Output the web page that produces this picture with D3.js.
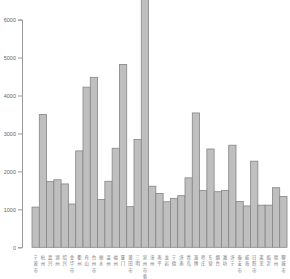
<!DOCTYPE html>
<html lang="zh">
<head>
    <meta charset="UTF-8">
    <title>Bar chart</title>
    <style>
        body { margin: 0; background: #fff; }
        #graphArea { width: 290px; height: 279px; }
        .tick text { font-family: "Liberation Sans", Arial, sans-serif; }
    </style>
</head>
<body>
    <div id="graphArea"></div>
    <script src="https://d3js.org/d3.v7.min.js"></script>
    <script>
        // categories (vertical Chinese labels under each bar)
        const cities = ["宁波市", "杭州", "嘉兴", "湖州", "绍兴", "金华市", "衢州", "舟山",
            "台州市", "丽水", "温州", "福州", "厦门", "莆田市", "三明", "泉州市省",
            "漳州", "南平", "龙岩", "宁德", "济南", "青岛", "淄博", "枣庄",
            "东营", "烟台", "潍坊", "济宁", "泰安市", "威海", "日照市", "莱芜",
            "临沂", "德州", "聊城市"];
        const values = [1060, 3500, 1730, 1780, 1670, 1140, 2540, 4220,
            4480, 1260, 1740, 2610, 4820, 1070, 2840, 6550,
            1610, 1420, 1200, 1290, 1360, 1830, 3540, 1500,
            2590, 1465, 1500, 2690, 1210, 1090, 2270, 1110,
            1110, 1570, 1340];
        const yTicks = [0, 1000, 2000, 3000, 4000, 5000, 6000];

        const drawGraph = () => {
            const data = cities.map((c, i) => ({ name: c, value: values[i] }));

            const svg = d3.select("#graphArea")
                .append("svg")
                .attr("width", 290)
                .attr("height", 279);

            const x = d3.scaleBand()
                .domain(data.map(d => d.name))
                .range([32, 287])
                .paddingInner(0)
                .paddingOuter(0);

            const y = d3.scaleLinear()
                .domain([0, 6000])
                .range([247.3, 19.6]);

            // bars
            svg.append("g")
                .selectAll("rect")
                .data(data)
                .join("rect")
                .attr("x", d => x(d.name))
                .attr("y", d => y(d.value))
                .attr("width", x.bandwidth())
                .attr("height", d => y(0) - y(d.value))
                .attr("fill", "#bfbfbf")
                .attr("stroke", "#858585")
                .attr("stroke-width", 0.8);

            // y axis
            const yAxis = svg.append("g")
                .attr("transform", "translate(22,0)")
                .call(d3.axisLeft(y).tickValues(yTicks).tickSize(4).tickPadding(2).tickFormat(d3.format("d")));
            yAxis.select(".domain").attr("stroke", "#999");
            yAxis.selectAll(".tick line").attr("stroke", "#999");
            yAxis.selectAll(".tick text")
                .attr("font-size", "5.5px")
                .attr("fill", "#666");

            // vertical category labels, one character per row
            const labels = svg.append("g")
                .selectAll("g")
                .data(data)
                .join("g")
                .attr("transform", d => `translate(${x(d.name) + x.bandwidth() / 2},0)`);

            labels.selectAll("text")
                .data(d => Array.from(d.name))
                .join("text")
                .attr("x", 0)
                .attr("y", (c, i) => 259 + i * 6.4)
                .attr("text-anchor", "middle")
                .attr("font-family", "'Noto Sans CJK SC', sans-serif")
                .attr("font-size", "4.4px")
                .attr("fill", "#777")
                .text(c => c);
        };

        drawGraph();
    </script>
</body>
</html>
